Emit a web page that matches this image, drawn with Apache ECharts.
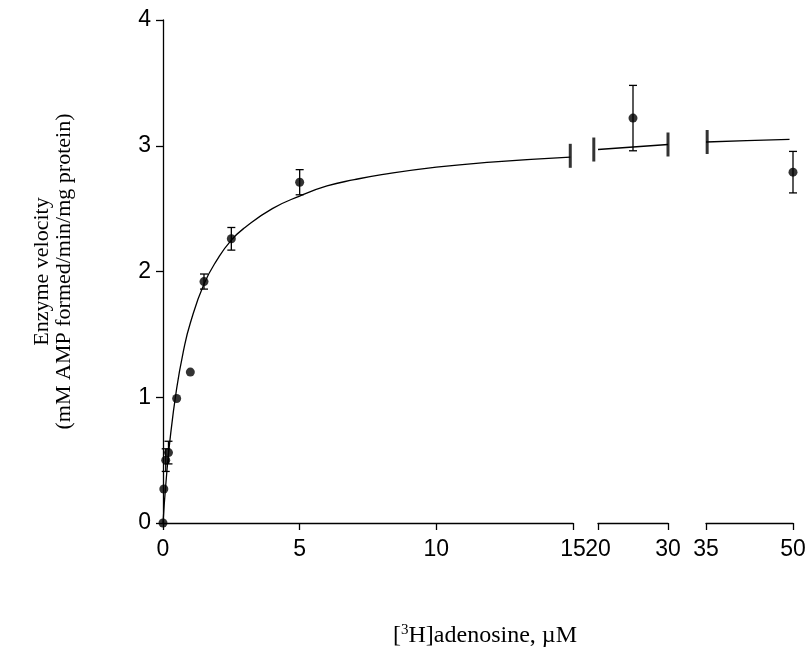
<!DOCTYPE html>
<html>
<head>
<meta charset="utf-8">
<script src="https://cdn.jsdelivr.net/npm/echarts@6/dist/echarts.min.js"></script>
<style>
  html, body { margin: 0; padding: 0; background: #fff; }
  #chart { width: 806px; height: 658px; }
</style>
</head>
<body>
<div id="chart"></div>
<script>
// measured points, one array per axis segment (conc in uM, velocity, s.e.)
var concA = [0, 0.03, 0.1, 0.2, 0.5, 1, 1.5, 2.5, 5];
var velA  = [0, 0.27, 0.5, 0.56, 0.99, 1.2, 1.92, 2.26, 2.71];
var errA  = [0, 0, 0.09, 0.09, 0, 0, 0.06, 0.09, 0.1];
var concB = [25];
var velB  = [3.22];
var errB  = [0.26];
var concC = [50];
var velC  = [2.79];
var errC  = [0.165];

// fitted curve
var fitXA = [0, 0.1, 0.25, 0.5, 0.75, 1, 1.5, 2, 2.5, 3, 4, 5, 6, 7, 8, 10, 12, 14.9];
var fitYA = [0, 0.3, 0.65, 1.07, 1.37, 1.59, 1.9, 2.1, 2.25, 2.35, 2.5, 2.6, 2.68, 2.73, 2.77, 2.83, 2.87, 2.91];
var fitXB = [20, 25, 30];
var fitYB = [2.97, 2.99, 3.01];
var fitXC = [35, 42, 49.4];
var fitYC = [3.03, 3.04, 3.05];

// where the curve is cut at the axis breaks
var breakXA = [14.9];
var breakYA = [2.92];
var breakXB = [19.4, 30];
var breakYB = [2.97, 3.01];
var breakXC = [35.2];
var breakYC = [3.03];

var myChart = echarts.init(document.getElementById('chart'));

function zip(a, b) { return a.map(function (v, i) { return [v, b[i]]; }); }
function zip3(a, b, c) {
    var out = [];
    a.forEach(function (v, i) { if (c[i] > 0) out.push([v, b[i], c[i]]); });
    return out;
}

function errorBar(params, api) {
    var x = api.value(0), y = api.value(1), e = api.value(2);
    var top = api.coord([x, y + e]);
    var bot = api.coord([x, y - e]);
    var hw = 4;
    var st = { stroke: '#000', lineWidth: 1.3 };
    return {
        type: 'group',
        children: [
            { type: 'line', shape: { x1: top[0], y1: top[1], x2: bot[0], y2: bot[1] }, style: st },
            { type: 'line', shape: { x1: top[0] - hw, y1: top[1], x2: top[0] + hw, y2: top[1] }, style: st },
            { type: 'line', shape: { x1: bot[0] - hw, y1: bot[1], x2: bot[0] + hw, y2: bot[1] }, style: st }
        ]
    };
}

var tickFont = { fontFamily: 'Liberation Sans', fontSize: 23, color: '#000' };
var axLine = { lineStyle: { color: '#000', width: 1.3 } };

function xAx(idx, min, max, interval) {
    return {
        type: 'value', gridIndex: idx, min: min, max: max, interval: interval,
        axisLine: axLine,
        axisTick: { show: true, length: 7, lineStyle: { color: '#000', width: 1.3 } },
        axisLabel: Object.assign({ margin: 15 }, tickFont),
        splitLine: { show: false }
    };
}
function yAx(idx, show) {
    return {
        type: 'value', gridIndex: idx, min: 0, max: 4, interval: 1, show: show,
        axisLine: axLine,
        axisTick: { show: true, length: 7, lineStyle: { color: '#000', width: 1.3 } },
        axisLabel: Object.assign({ margin: 12 }, tickFont),
        splitLine: { show: false },
        name: 'Enzyme velocity\n(mM AMP formed/min/mg protein)',
        nameLocation: 'middle',
        nameRotate: 90,
        nameGap: 88,
        nameTextStyle: { fontFamily: 'Liberation Serif', fontSize: 22, color: '#000', lineHeight: 22 }
    };
}

function curve(idx, xs, ys) {
    return { type: 'line', xAxisIndex: idx, yAxisIndex: idx, data: zip(xs, ys), smooth: true,
             showSymbol: false, lineStyle: { color: '#000', width: 1.3 }, silent: true };
}
function pts(idx, xs, ys) {
    return { type: 'scatter', xAxisIndex: idx, yAxisIndex: idx, data: zip(xs, ys), symbolSize: 9,
             itemStyle: { color: '#000' }, clip: false, z: 5 };
}
function errs(idx, xs, ys, es) {
    return { type: 'custom', xAxisIndex: idx, yAxisIndex: idx, data: zip3(xs, ys, es),
             renderItem: errorBar, clip: false, z: 4 };
}
function breaks(idx, xs, ys) {
    return { type: 'scatter', xAxisIndex: idx, yAxisIndex: idx, data: zip(xs, ys), symbol: 'rect',
             symbolSize: [3, 24], itemStyle: { color: '#000' }, clip: false };
}

option = {
    backgroundColor: '#fff',
    animation: false,
    title: {
        text: '{n|[}{s|3}{n|H]adenosine, \u00b5M}',
        left: 480, top: 618, textAlign: 'center',
        textStyle: {
            rich: {
                n: { fontFamily: 'Liberation Serif', fontSize: 24, fontWeight: 'normal', color: '#000', verticalAlign: 'bottom' },
                s: { fontFamily: 'Liberation Serif', fontSize: 15, fontWeight: 'normal', color: '#000', verticalAlign: 'top', padding: [0, 0, 10, 0] }
            }
        }
    },
    grid: [
        { left: 163, top: 20, width: 410, height: 503, outerBoundsMode: 'none' },
        { left: 598, top: 20, width: 70, height: 503, outerBoundsMode: 'none' },
        { left: 706, top: 20, width: 87, height: 503, outerBoundsMode: 'none' }
    ],
    xAxis: [ xAx(0, 0, 15, 5), xAx(1, 20, 30, 10), xAx(2, 35, 50, 15) ],
    yAxis: [ yAx(0, true), yAx(1, false), yAx(2, false) ],
    series: [
        curve(0, fitXA, fitYA), curve(1, fitXB, fitYB), curve(2, fitXC, fitYC),
        breaks(0, breakXA, breakYA), breaks(1, breakXB, breakYB), breaks(2, breakXC, breakYC),
        errs(0, concA, velA, errA), errs(1, concB, velB, errB), errs(2, concC, velC, errC),
        pts(0, concA, velA), pts(1, concB, velB), pts(2, concC, velC)
    ]
};

myChart.setOption(option);
</script>
</body>
</html>
